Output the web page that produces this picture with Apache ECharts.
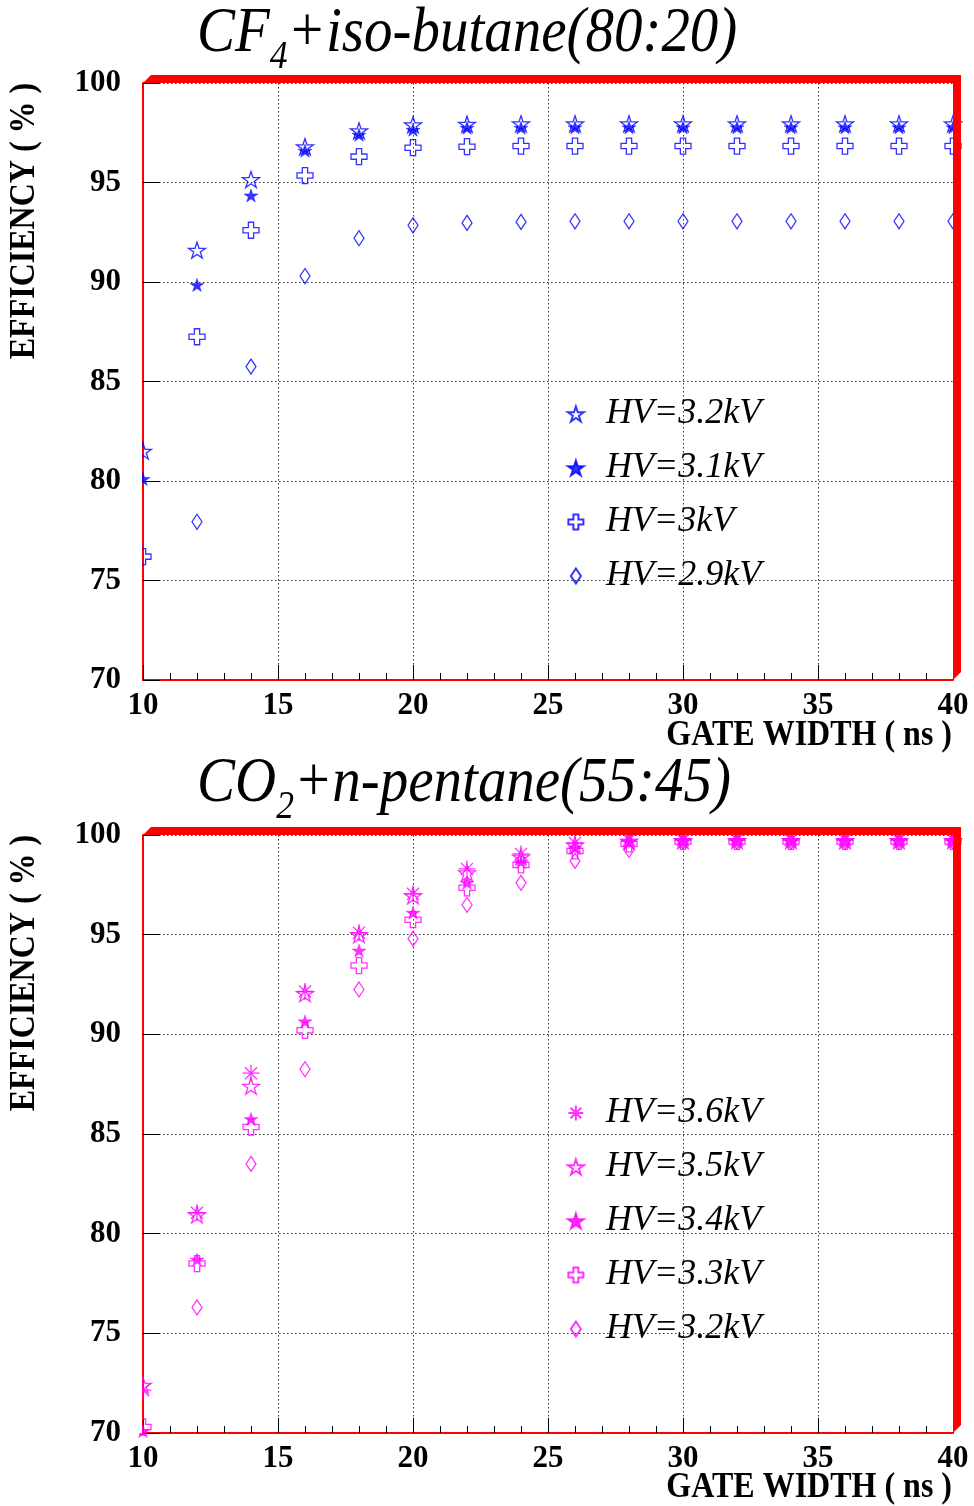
<!DOCTYPE html>
<html>
<head>
<meta charset="utf-8">
<script src="https://cdn.jsdelivr.net/npm/echarts@6/dist/echarts.min.js"></script>
<style>
  html, body { margin: 0; padding: 0; background: #fff; }
  #chart { width: 974px; height: 1506px; }
</style>
</head>
<body>
<div id="chart"></div>
<script>
// Gate width (ns) common to both panels
const gateWidth = [10, 12, 14, 16, 18, 20, 22, 24, 26, 28, 30, 32, 34, 36, 38, 40];

// Panel 1: CF4 + iso-butane (80:20), efficiency (%) per HV
const cf4Labels = ['HV=3.2kV', 'HV=3.1kV', 'HV=3kV', 'HV=2.9kV'];
const cf4Hv32 = [81.5, 91.6, 95.15, 96.8, 97.6, 97.9, 97.93, 97.95, 97.95, 97.95, 97.95, 97.95, 97.95, 97.95, 97.95, 97.95];
const cf4Hv31 = [80.1, 89.85, 94.35, 96.6, 97.4, 97.65, 97.75, 97.75, 97.77, 97.77, 97.77, 97.77, 97.77, 97.77, 97.77, 97.77];
const cf4Hv30 = [76.2, 87.25, 92.6, 95.35, 96.3, 96.75, 96.8, 96.83, 96.83, 96.83, 96.83, 96.83, 96.83, 96.83, 96.83, 96.83];
const cf4Hv29 = [null, 77.95, 85.75, 90.3, 92.2, 92.85, 92.97, 93.02, 93.05, 93.05, 93.05, 93.05, 93.05, 93.05, 93.05, 93.05];

// Panel 2: CO2 + n-pentane (55:45), efficiency (%) per HV
const co2Labels = ['HV=3.6kV', 'HV=3.5kV', 'HV=3.4kV', 'HV=3.3kV', 'HV=3.2kV'];
const co2Hv36 = [72.15, 81.05, 88.05, 92.15, 95.1, 97.05, 98.3, 99.05, 99.6, 99.75, 99.75, 99.75, 99.75, 99.75, 99.75, 99.75];
const co2Hv35 = [72.4, 80.95, 87.4, 92.05, 95.0, 96.95, 98.1, 98.9, 99.5, 99.7, 99.72, 99.72, 99.72, 99.72, 99.72, 99.72];
const co2Hv34 = [70.1, 78.7, 85.75, 90.65, 94.2, 96.1, 97.6, 98.65, 99.35, 99.65, 99.7, 99.7, 99.7, 99.7, 99.7, 99.7];
const co2Hv33 = [70.3, 78.5, 85.35, 90.2, 93.45, 95.75, 97.35, 98.5, 99.2, 99.55, 99.68, 99.68, 99.68, 99.68, 99.68, 99.68];
const co2Hv32 = [null, 76.3, 83.5, 88.25, 92.25, 94.8, 96.5, 97.6, 98.7, 99.25, 99.65, 99.65, 99.65, 99.65, 99.65, 99.65];

// Axis ticks
const xTicks = { min: 10, max: 40, interval: 5 };
const yTicks = { min: 70, max: 100, interval: 5 };

// Marker shapes
function polyPath(pts) {
  return 'path://' + pts.map((p, i) => (i ? 'L' : 'M') + p[0].toFixed(3) + ',' + p[1].toFixed(3)).join('') + 'Z';
}
const starPts = [];
for (let k = 0; k < 10; k++) {
  const a = (-90 + k * 36) * Math.PI / 180;
  const r = k % 2 === 0 ? 1 : 0.382;
  starPts.push([r * Math.cos(a), r * Math.sin(a)]);
}
const STAR = polyPath(starPts);
const c = 0.33;
const CROSS = polyPath([[-c, -1], [c, -1], [c, -c], [1, -c], [1, c], [c, c], [c, 1], [-c, 1], [-c, c], [-1, c], [-1, -c], [-c, -c]]);
const DIAMOND = polyPath([[0, -1.5], [1, 0], [0, 1.5], [-1, 0]]);
const ASTERISK = 'path://M0,-1L0,1M-1,0L1,0M-0.71,-0.71L0.71,0.71M-0.71,0.71L0.71,-0.71';

const BLUE = '#0000ff';
const MAGENTA = '#ff00ff';
const FONT = "'Liberation Serif', 'Times New Roman', serif";

function pairs(ys) { return gateWidth.map((x, i) => [x, ys[i]]); }

function series(prefix, label, ys, symbol, size, color, filled, grid) {
  return {
    name: prefix + label,
    type: 'scatter',
    xAxisIndex: grid, yAxisIndex: grid,
    data: pairs(ys),
    symbol: symbol,
    symbolSize: size,
    itemStyle: filled
      ? { color: color, borderColor: color, borderWidth: 0.5 }
      : { color: 'rgba(255,255,255,0)', borderColor: color, borderWidth: 1.3 },
    z: 3
  };
}

const seriesList = [
  series('a:', cf4Labels[0], cf4Hv32, STAR, [17, 16], BLUE, false, 0),
  series('a:', cf4Labels[1], cf4Hv31, STAR, [14, 13], BLUE, true, 0),
  series('a:', cf4Labels[2], cf4Hv30, CROSS, 16, BLUE, false, 0),
  series('a:', cf4Labels[3], cf4Hv29, DIAMOND, [10, 15], BLUE, false, 0),
  series('b:', co2Labels[0], co2Hv36, ASTERISK, 17, MAGENTA, false, 1),
  series('b:', co2Labels[1], co2Hv35, STAR, [17, 16], MAGENTA, false, 1),
  series('b:', co2Labels[2], co2Hv34, STAR, [14, 13], MAGENTA, true, 1),
  series('b:', co2Labels[3], co2Hv33, CROSS, 16, MAGENTA, false, 1),
  series('b:', co2Labels[4], co2Hv32, DIAMOND, [10, 15], MAGENTA, false, 1)
];

const dotted = { type: [1.5, 2.5], color: '#333', width: 1 };

function xAxis(grid) {
  return {
    gridIndex: grid, type: 'value',
    min: xTicks.min, max: xTicks.max, interval: xTicks.interval,
    axisLine: { onZero: false, lineStyle: { color: '#ff0000', width: 2 } },
    axisTick: { inside: true, length: 15, lineStyle: { color: '#000', width: 1 } },
    minorTick: { show: true, splitNumber: 5, length: 7, lineStyle: { color: '#000', width: 1 } },
    splitLine: { show: true, lineStyle: dotted },
    axisLabel: { margin: 10, color: '#000', fontFamily: FONT, fontWeight: 'bold', fontSize: 31 }
  };
}
function yAxis(grid) {
  return {
    gridIndex: grid, type: 'value',
    min: yTicks.min, max: yTicks.max, interval: yTicks.interval,
    axisLine: { lineStyle: { color: '#ff0000', width: 2 } },
    axisTick: { inside: true, length: 17, lineStyle: { color: '#000', width: 1 } },
    splitLine: { show: true, lineStyle: dotted },
    axisLabel: { margin: 22, color: '#000', fontFamily: FONT, fontWeight: 'bold', fontSize: 31 }
  };
}

function legend(prefix, labels, top) {
  return {
    orient: 'vertical', left: 567, top: top, align: 'left', padding: 0,
    itemWidth: 16, itemHeight: 15, itemGap: 18,
    data: labels.map(l => prefix + l),
    formatter: name => name.slice(prefix.length),
    selectedMode: false,
    textStyle: { fontFamily: FONT, fontStyle: 'italic', fontSize: 36, lineHeight: 36, color: '#000', padding: [0, 0, 0, 17] }
  };
}

// 3D-look red frame border (top and right edges) of a panel
function frame(top, bottom) {
  return {
    type: 'polygon', z: 10, silent: true,
    shape: { points: [[143, top], [151, top - 8], [961, top - 8], [961, bottom - 8], [953, bottom], [953, top]] },
    style: { fill: '#ff0000' }
  };
}
// blanks the part of the markers left of the frame
function leftMask(top, bottom) {
  return { type: 'rect', z: 10, silent: true, shape: { x: 124, y: top, width: 18, height: bottom - top }, style: { fill: '#fff' } };
}

function title(parts, y) {
  return {
    type: 'text', x: 197, y: y, scaleX: 0.89, z: 10,
    style: {
      text: '{a|' + parts[0] + '}{s|' + parts[1] + '}{a|' + parts[2] + '}',
      verticalAlign: 'top', align: 'left',
      rich: {
        a: { fontFamily: FONT, fontStyle: 'italic', fontSize: 64, lineHeight: 64, verticalAlign: 'top', fill: '#000' },
        s: { fontFamily: FONT, fontStyle: 'italic', fontSize: 40, lineHeight: 40, padding: [35, 0, 0, 0], verticalAlign: 'top', fill: '#000' }
      }
    }
  };
}
function boldText(text, x, y, opts) {
  return Object.assign({
    type: 'text', x: x, y: y, z: 10,
    style: { text: text, fontFamily: FONT, fontWeight: 'bold', fontSize: 32, fill: '#000', align: 'center', verticalAlign: 'middle' }
  }, opts || {});
}
function axisName(y) {
  return {
    type: 'text', x: 952, y: y, z: 10, scaleY: 1.1,
    style: { text: 'GATE WIDTH ( ns )', fontFamily: FONT, fontWeight: 'bold', fontSize: 32, fill: '#000', align: 'right', verticalAlign: 'middle' }
  };
}

const chart = echarts.init(document.getElementById('chart'), null, { renderer: 'canvas' });
chart.setOption({
  animation: false,
  backgroundColor: '#fff',
  grid: [
    { left: 143, top: 83, width: 810, height: 597 },
    { left: 143, top: 835, width: 810, height: 598 }
  ],
  xAxis: [xAxis(0), xAxis(1)],
  yAxis: [yAxis(0), yAxis(1)],
  legend: [legend('a:', cf4Labels, 396), legend('b:', co2Labels, 1095)],
  series: seriesList,
  graphic: [
    leftMask(75, 680), leftMask(827, 1433),
    frame(83, 680), frame(835, 1433),
    title(['CF', '4', '+iso-butane(80:20)'], 2),
    title(['CO', '2', '+n-pentane(55:45)'], 752),
    boldText('EFFICIENCY ( % )', 25, 221, { rotation: Math.PI / 2, scaleY: 1.12 }),
    boldText('EFFICIENCY ( % )', 25, 973, { rotation: Math.PI / 2, scaleY: 1.12 }),
    axisName(736),
    axisName(1488)
  ]
});
</script>
</body>
</html>
